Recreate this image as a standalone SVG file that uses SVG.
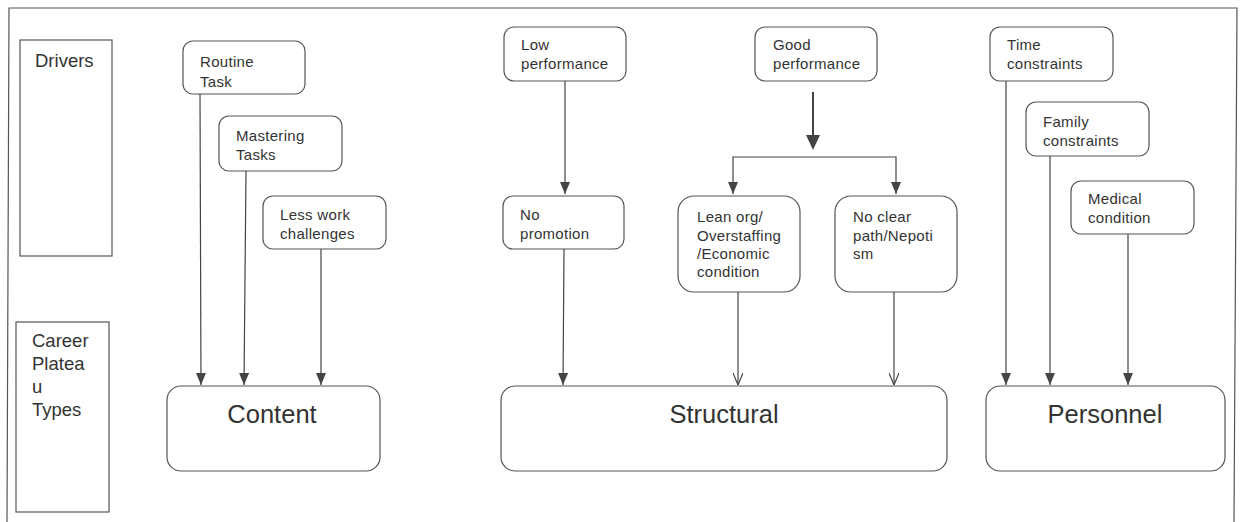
<svg xmlns="http://www.w3.org/2000/svg" width="1243" height="522" viewBox="0 0 1243 522">
<style>
.bg{fill:#fff}
.frame{fill:none;stroke:#555;stroke-width:1.2}
.box{fill:#fff;stroke:#555;stroke-width:1.2}
.t{font-family:"Liberation Sans",Arial,sans-serif;font-size:15px;letter-spacing:0.3px;fill:#333}
.lbl{font-family:"Liberation Sans",Arial,sans-serif;font-size:18.5px;fill:#333}
.big{font-family:"Liberation Sans",Arial,sans-serif;font-size:25.5px;fill:#333;text-anchor:middle}
.ln{fill:none;stroke:#444;stroke-width:1.2}
.thick{fill:none;stroke:#444;stroke-width:2}
</style>
<defs>
<marker id="fa" viewBox="0 0 12 10" refX="12" refY="5" markerWidth="12" markerHeight="10" markerUnits="userSpaceOnUse" orient="auto-start-reverse">
<path d="M0,0 L12,5 L0,10 Z" fill="#444"/>
</marker>
<marker id="oa" viewBox="0 0 12 10" refX="12" refY="5" markerWidth="12" markerHeight="10" markerUnits="userSpaceOnUse" orient="auto-start-reverse">
<path d="M0,0 L12,5 L0,10" fill="none" stroke="#444" stroke-width="1.2"/>
</marker>
</defs>
<rect class="bg" x="0" y="0" width="1243" height="522"/>
<path class="frame" d="M7,522 L9,8 L1237,8 L1234,522"/>

<g id="drivers-label">
<rect class="box" x="20" y="40" width="92" height="216"/>
<text class="lbl" x="35" y="67">Drivers</text>
</g>
<g id="types-label">
<rect class="box" x="16" y="322" width="93" height="190"/>
<text class="lbl" x="32" y="347">Career</text>
<text class="lbl" x="32" y="370">Platea</text>
<text class="lbl" x="32" y="393">u</text>
<text class="lbl" x="32" y="416">Types</text>
</g>

<g id="routine">
<rect class="box" x="183" y="41" width="122" height="53" rx="10"/>
<text class="t" x="200" y="67">Routine</text>
<text class="t" x="200" y="87">Task</text>
</g>
<g id="mastering">
<rect class="box" x="219" y="116" width="123" height="55" rx="10"/>
<text class="t" x="236" y="141">Mastering</text>
<text class="t" x="236" y="160">Tasks</text>
</g>
<g id="lesswork">
<rect class="box" x="263" y="196" width="123" height="53" rx="10"/>
<text class="t" x="280" y="220">Less work</text>
<text class="t" x="280" y="239">challenges</text>
</g>
<g id="lowperf">
<rect class="box" x="504" y="27" width="122" height="54" rx="10"/>
<text class="t" x="521" y="50">Low</text>
<text class="t" x="521" y="69">performance</text>
</g>
<g id="goodperf">
<rect class="box" x="755" y="27" width="122" height="54" rx="10"/>
<text class="t" x="773" y="50">Good</text>
<text class="t" x="773" y="69">performance</text>
</g>
<g id="nopromo">
<rect class="box" x="503" y="196" width="121" height="53" rx="10"/>
<text class="t" x="520" y="220">No</text>
<text class="t" x="520" y="239">promotion</text>
</g>
<g id="lean">
<rect class="box" x="678" y="196" width="122" height="96" rx="16"/>
<text class="t" x="697" y="222">Lean org/</text>
<text class="t" x="697" y="241">Overstaffing</text>
<text class="t" x="697" y="259">/Economic</text>
<text class="t" x="697" y="277">condition</text>
</g>
<g id="noclear">
<rect class="box" x="835" y="196" width="122" height="96" rx="16"/>
<text class="t" x="853" y="222">No clear</text>
<text class="t" x="853" y="241">path/Nepoti</text>
<text class="t" x="853" y="259">sm</text>
</g>
<g id="time">
<rect class="box" x="990" y="27" width="123" height="54" rx="10"/>
<text class="t" x="1007" y="50">Time</text>
<text class="t" x="1007" y="69">constraints</text>
</g>
<g id="family">
<rect class="box" x="1026" y="102" width="123" height="54" rx="10"/>
<text class="t" x="1043" y="127">Family</text>
<text class="t" x="1043" y="146">constraints</text>
</g>
<g id="medical">
<rect class="box" x="1071" y="181" width="123" height="53" rx="10"/>
<text class="t" x="1088" y="204">Medical</text>
<text class="t" x="1088" y="223">condition</text>
</g>

<g id="content">
<rect class="box" x="167" y="386" width="213" height="85" rx="14"/>
<text class="big" x="272" y="423">Content</text>
</g>
<g id="structural">
<rect class="box" x="501" y="386" width="446" height="85" rx="14"/>
<text class="big" x="724" y="423">Structural</text>
</g>
<g id="personnel">
<rect class="box" x="986" y="386" width="239" height="85" rx="14"/>
<text class="big" x="1105" y="423">Personnel</text>
</g>

<g id="connectors">
<line class="ln" x1="200" y1="94" x2="201" y2="385" marker-end="url(#fa)"/>
<line class="ln" x1="246" y1="171" x2="244" y2="385" marker-end="url(#fa)"/>
<line class="ln" x1="321" y1="249" x2="321" y2="385" marker-end="url(#fa)"/>
<line class="ln" x1="565" y1="81" x2="565" y2="194" marker-end="url(#fa)"/>
<line class="ln" x1="564" y1="249" x2="563" y2="385" marker-end="url(#fa)"/>
<line class="thick" x1="813" y1="92" x2="813" y2="136"/>
<path d="M806,135 L820,135 L813,150 Z" fill="#444"/>
<path class="ln" d="M733,194 L733,157 L896,157 L896,194" marker-start="url(#fa)" marker-end="url(#fa)"/>
<line class="ln" x1="738" y1="292" x2="738" y2="385" marker-end="url(#oa)"/>
<line class="ln" x1="894" y1="292" x2="894" y2="385" marker-end="url(#oa)"/>
<line class="ln" x1="1006" y1="81" x2="1006" y2="385" marker-end="url(#fa)"/>
<line class="ln" x1="1050" y1="156" x2="1050" y2="385" marker-end="url(#fa)"/>
<line class="ln" x1="1128" y1="234" x2="1128" y2="385" marker-end="url(#fa)"/>
</g>
</svg>
